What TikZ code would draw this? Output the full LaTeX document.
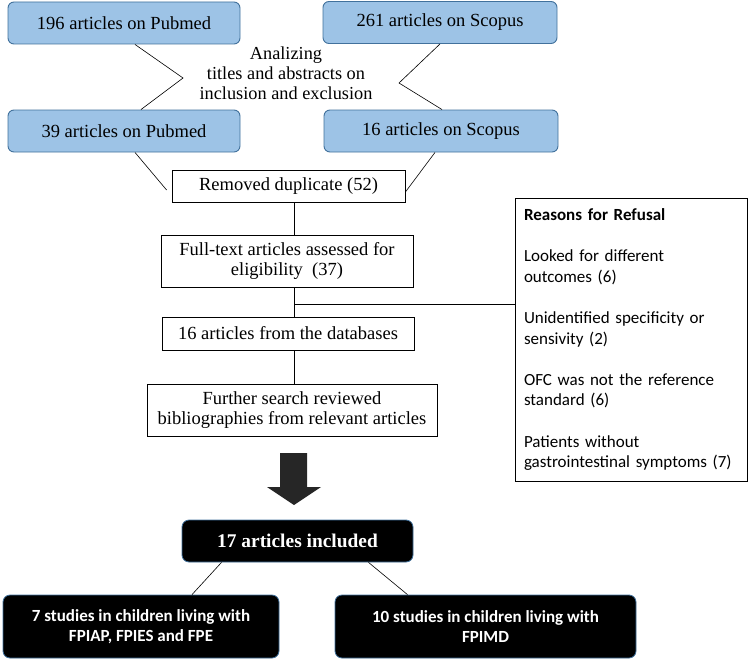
\documentclass[tikz,border=0pt]{standalone}
\usepackage{fontspec}
\setmainfont{Liberation Serif}
\newfontfamily\carlito{Carlito}
\definecolor{dbblue}{RGB}{157,195,230}
\definecolor{dbedge}{RGB}{65,113,156}
\definecolor{arrowgray}{RGB}{38,38,38}

\begin{document}
\begin{tikzpicture}[x=1pt, y=-1pt,
        dbBox/.style={draw=dbedge, line width=0.9pt, rounded corners=6pt, fill=dbblue, minimum width=232pt, minimum height=42pt, font=\fontsize{18.5}{20}\selectfont},
        stepBox/.style={draw, line width=0.8pt, align=center, font=\fontsize{18.5}{20}\selectfont},
        resultBox/.style={draw=dbedge, line width=0.8pt, fill=black, text=white, rounded corners=7pt, align=center, minimum height=63pt, font=\carlito\bfseries\fontsize{17}{20}\selectfont},
        link/.style={draw, line width=0.6pt}
    ]
        \useasboundingbox (0,0) rectangle (749,661);
        % database searches
        \node[dbBox] (pubA) at (124,23) {196 articles on Pubmed};
        \node[dbBox, minimum width=234pt] (scoA) at (440,22.5) {261 articles on Scopus};
        \node[dbBox] (pubB) at (124,131) {39 articles on Pubmed};
        \node[dbBox, minimum width=234pt] (scoB) at (441,131) {16 articles on Scopus};
        \node[align=center, font=\fontsize{18.3}{20}\selectfont] (screen) at (286,73) {Analizing\\titles and abstracts on\\inclusion and exclusion};
        \coordinate (jointL) at (183,78);
        \coordinate (jointR) at (399,83);
        \draw[link] ([xshift=11pt]pubA.south) -- (jointL) -- ([xshift=17pt]pubB.north);
        \draw[link] (scoA.south) -- (jointR) -- ([xshift=1pt]scoB.north);

        % screening steps
        \node[stepBox, minimum width=233pt, minimum height=32pt] (dup) at (288.5,186) {Removed duplicate (52)};
        \node[stepBox, minimum width=252pt, minimum height=52pt] (full) at (287,261) {Full-text articles assessed for\\eligibility\ \ (37)};
        \node[stepBox, minimum width=252pt, minimum height=33pt] (db16) at (288,333.5) {16 articles from the databases};
        \node[stepBox, minimum width=290pt, minimum height=52pt] (further) at (292,410) {Further search reviewed\\bibliographies from relevant articles};
        \node[draw, line width=0.8pt, minimum width=232pt, minimum height=283pt, text width=214pt, align=left,
              font=\carlito\fontsize{17}{20.6}\selectfont] (reasons) at (631,339.5)
              {\textbf{Reasons for Refusal}\\[20.6pt]
               Looked for different\\outcomes\ (6)\\[20.6pt]
               Unidentified specificity or\\sensivity (2)\\[20.6pt]
               OFC was not the reference\\standard (6)\\[20.6pt]
               Patients without\\gastrointestinal symptoms (7)};
        \coordinate (spine) at (294,0);
        \coordinate (branch) at (294,304);
        \draw[link] ([xshift=11pt]pubB.south) -- ([xshift=-5pt, yshift=-4pt]dup.west);
        \draw[link] ([xshift=-6pt]scoB.south) -- ([yshift=-6pt]dup.east);
        \draw[link] (dup.south -| spine) -- (full.north -| spine);
        \draw[link] (full.south -| spine) -- (db16.north -| spine);
        \draw[link] (branch) -- (branch -| reasons.west);
        \draw[link] (db16.south -| spine) -- (further.north -| spine);

        % big arrow
        \fill[arrowgray] (280,453) -- (307,453) -- (307,487) -- (321,487) -- (294,505) -- (267,487) -- (280,487) -- cycle;

        % included studies
        \node[resultBox, minimum width=231pt, minimum height=42pt, font=\bfseries\fontsize{19.4}{20}\selectfont] (inc17) at (297.5,541) {17 articles included};
        \node[resultBox, minimum width=276pt] (studA) at (141,626.5) {7 studies in children living with\\FPIAP, FPIES and FPE};
        \node[resultBox, minimum width=301pt] (studB) at (485.5,626.5) {10 studies in children living with\\FPIMD};
        \draw[link] ([xshift=-76pt]inc17.south) -- ([xshift=51pt]studA.north);
        \draw[link] ([xshift=71pt]inc17.south) -- ([xshift=-78pt]studB.north);
    \end{tikzpicture}
\end{document}
